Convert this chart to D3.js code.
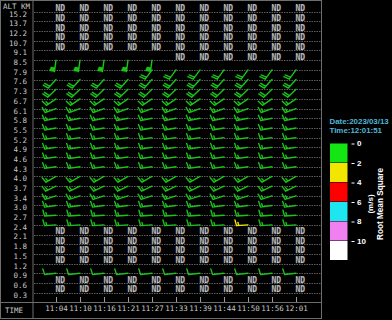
<!DOCTYPE html>
<html><head><meta charset="utf-8">
<script src="https://cdn.jsdelivr.net/npm/d3@7"></script>
<style>html,body{margin:0;padding:0;background:#000;overflow:hidden}</style>
</head><body>
<svg id="c" width="392" height="320"></svg>
<script>
const altitudes = ["15.2","13.7","12.2","10.7","9.1","8.5","7.9","7.6","7.3","6.7","6.1","5.8","5.5","5.2","4.9","4.6","4.3","4.0","3.7","3.4","3.0","2.7","2.4","2.1","1.8","1.5","1.2","0.9","0.6","0.3"];
const times = ["11:04","11:10","11:16","11:21","11:27","11:33","11:39","11:44","11:50","11:56","12:01"];
const N = null, B = ""; // N = "ND" (no data), B = blank cell
// wind direction (deg, from) per altitude row x time column
const windDir = [
  [N,N,N,N,N,N,N,N,N,N,N],
  [N,N,N,N,N,N,N,N,N,N,N],
  [N,N,N,N,N,N,N,N,N,N,N],
  [N,N,N,N,N,N,N,N,N,N,N],
  [N,N,N,N,N,N,N,N,N,N,N],
  [188,188,188,188,188,N,N,N,N,N,N],
  [B,B,B,B,216,216,216,216,216,216,216],
  [222,222,222,222,222,222,222,222,222,222,222],
  [226,226,226,226,226,226,226,226,226,226,226],
  [236,236,236,236,236,236,236,236,236,236,236],
  [250,250,250,250,250,250,250,250,250,250,250],
  [258,258,258,258,258,258,258,258,258,258,258],
  [260,260,260,260,260,260,260,260,260,260,260],
  [262,262,262,262,262,262,262,262,262,262,262],
  [262,262,262,262,262,262,262,262,262,262,262],
  [262,262,262,262,262,262,262,262,262,262,262],
  [262,262,262,262,262,262,262,262,262,262,262],
  [240,240,240,240,240,240,240,240,240,240,240],
  [244,244,244,244,244,244,244,244,244,244,244],
  [252,252,252,252,252,252,252,252,252,252,252],
  [262,262,262,262,262,262,262,262,262,262,262],
  [266,266,266,266,266,266,266,266,266,266,266],
  [266,266,266,266,266,266,266,266,266,266,266],
  [N,N,N,N,N,N,N,N,N,N,N],
  [N,N,N,N,N,N,N,N,N,N,N],
  [N,N,N,N,N,N,N,N,N,N,N],
  [N,N,N,N,N,N,N,N,N,N,N],
  [264,264,264,264,264,264,264,264,264,264,264],
  [N,N,N,N,N,N,N,N,N,N,N],
  [N,N,N,N,N,N,N,N,N,N,N]
];
// wind speed (m/s) per altitude row (same for all times, as read)
const windSpd = [0,0,0,0,0,20,8,8,8,6,6,6,6,6,6,6,6,6,6,6,6,6,6,0,0,0,0,4,0,0];
// root mean square (m/s): all green except one cell
const rmsValues = [1,1,1,1,1,1,1,1,1,1,1];
const rmsSpecial = [{row:"2.4", time:"11:50", rms:3}];
const legendTicks = ["0","2","4","6","8","10"];
const legendColors = ["#14e614","#f0e600","#ff0000","#1ee6f0","#f080f0","#ffffff"];

const svg = d3.select("#c");
const mono = "'DejaVu Sans Mono', 'Liberation Mono', monospace";
const sans = "'Liberation Sans', Arial, sans-serif";

const x = d3.scalePoint().domain(times).range([56, 296]);
const y = d3.scalePoint().domain(altitudes).range([11.7, 292.7]);
const rmsColor = d3.scaleThreshold().domain([2,4,6,8,10]).range(legendColors);

// frame
svg.append("rect").attr("x",0.5).attr("y",0.5).attr("width",321).attr("height",318)
  .attr("fill","none").attr("stroke","#6e6e6e");
svg.append("line").attr("x1",33).attr("x2",33).attr("y1",0).attr("y2",319).attr("stroke","#6e6e6e");
svg.append("line").attr("x1",0).attr("x2",322).attr("y1",302.5).attr("y2",302.5).attr("stroke","#6e6e6e");

// grid lines
svg.append("g").selectAll("line").data(altitudes).join("line")
  .attr("x1",34).attr("x2",321).attr("y1",d=>Math.round(y(d))+0.5).attr("y2",d=>Math.round(y(d))+0.5)
  .attr("stroke","#5c5c5c").attr("stroke-dasharray","1.5,1");

// left labels
svg.append("defs").append("clipPath").attr("id","lc").append("rect").attr("x",0).attr("y",0).attr("width",32).attr("height",20);
svg.append("text").attr("x",3).attr("y",8.5).attr("clip-path","url(#lc)")
  .attr("font-family",mono).attr("font-size",7.5).attr("fill","#c8c8c8").text("ALT KM");
const ya = svg.append("g").attr("transform","translate(27,2)").call(d3.axisLeft(y).tickSize(0).tickPadding(0));
ya.select(".domain").remove();
ya.selectAll("text").attr("font-family",mono).attr("font-size",7.5).attr("fill","#c8c8c8");

// time axis
const xa = svg.append("g").attr("transform","translate(0,302)").call(d3.axisBottom(x).tickSize(-5).tickPadding(3.5));
xa.select(".domain").remove();
xa.selectAll("line").attr("stroke","#9a9a9a");
xa.selectAll("text").attr("font-family",mono).attr("font-size",7.5).attr("fill","#c8c8c8");
svg.append("text").attr("x",5).attr("y",312.5).attr("font-family",mono).attr("font-size",7.5).attr("fill","#c8c8c8").text("TIME");

// cells
const cells = [];
altitudes.forEach((a,i)=>times.forEach((t,j)=>{
  const sp = rmsSpecial.find(s=>s.row===a && s.time===t);
  cells.push({alt:a, time:t, dir:windDir[i][j], spd:windSpd[i], rms: sp ? sp.rms : rmsValues[j]});
}));

// ND texts
svg.append("g").selectAll("text").data(cells.filter(c=>c.dir===null)).join("text")
  .attr("x",c=>x(c.time)+4.3).attr("y",c=>y(c.alt)-3.3).attr("dy","0.35em")
  .attr("text-anchor","middle").attr("font-family",mono).attr("font-weight","bold")
  .attr("font-size",8).attr("fill","#d0d0d0").attr("stroke","#707070").attr("stroke-width",0.25).text("ND");

// barbs
function barb(c){
  const sx = x(c.time), sy = y(c.alt);
  const L = 11.5, F = 5.8, gap = 2.2;
  const a = c.dir*Math.PI/180;
  const ux = Math.sin(a), uy = -Math.cos(a);
  const px = Math.cos(a), py = Math.sin(a);
  let d = `M${sx},${sy}L${sx+ux*L},${sy+uy*L}`;
  let fill = "";
  let pos = L, s = Math.round(c.spd/2)*2;
  while (s >= 20){
    const bx = sx+ux*pos, by = sy+uy*pos;
    const b2x = sx+ux*(pos-4), b2y = sy+uy*(pos-4);
    fill += `M${bx},${by}L${bx+px*5},${by+py*5}L${b2x+px*4},${b2y+py*4}L${b2x},${b2y}Z`;
    pos -= 5; s -= 20;
  }
  while (s >= 4){
    const bx = sx+ux*pos, by = sy+uy*pos;
    d += `M${bx},${by}L${bx+px*F+ux*F*0.2},${by+py*F+uy*F*0.2}`;
    pos -= gap; s -= 4;
  }
  if (s >= 2){
    const bx = sx+ux*pos, by = sy+uy*pos;
    d += `M${bx},${by}L${bx+px*F*0.55+ux*F*0.1},${by+py*F*0.55+uy*F*0.1}`;
  }
  return {d, fill};
}
const bg = svg.append("g");
cells.filter(c=>typeof c.dir === "number").forEach(c=>{
  const b = barb(c), col = c.rms<2 ? "#18c418" : rmsColor(c.rms);
  bg.append("path").attr("d",b.d).attr("fill","none").attr("stroke",col).attr("stroke-width",1.4).attr("stroke-linecap","round");
  if (b.fill) bg.append("path").attr("d",b.fill).attr("fill",col).attr("stroke",col).attr("stroke-width",0.6);
});

// legend
svg.append("text").attr("x",329.5).attr("y",123.5).attr("font-family",sans).attr("font-weight","bold")
  .attr("font-size",7.9).attr("fill","#52b6d6").text("Date:2023/03/13");
svg.append("text").attr("x",329.5).attr("y",132.5).attr("font-family",sans).attr("font-weight","bold")
  .attr("font-size",7.9).attr("fill","#52b6d6").text("Time:12:01:51");
const ly = d3.scaleBand().domain(legendTicks).range([143.5, 260.5]);
svg.append("g").selectAll("rect").data(legendTicks).join("rect")
  .attr("x",330).attr("y",d=>ly(d)).attr("width",17.5).attr("height",ly.bandwidth()-0.5)
  .attr("fill",(d,i)=>legendColors[i]);
svg.append("g").selectAll("line").data(legendTicks).join("line")
  .attr("x1",351.5).attr("x2",354.5).attr("y1",d=>ly(d)+0.5).attr("y2",d=>ly(d)+0.5).attr("stroke","#fff");
svg.append("g").selectAll("text").data(legendTicks).join("text")
  .attr("x",357).attr("y",d=>ly(d)).attr("dy","0.35em").attr("font-family",sans).attr("font-weight","bold")
  .attr("font-size",8).attr("fill","#fff").text(d=>d);
svg.append("text").attr("transform","translate(373,204) rotate(-90)").attr("text-anchor","middle")
  .attr("font-family",sans).attr("font-weight","bold").attr("font-size",8).attr("fill","#fff").text("(m/s)");
svg.append("text").attr("transform","translate(383,204) rotate(-90)").attr("text-anchor","middle")
  .attr("font-family",sans).attr("font-weight","bold").attr("font-size",8.2).attr("fill","#fff").text("Root Mean Square");
</script>
</body></html>
